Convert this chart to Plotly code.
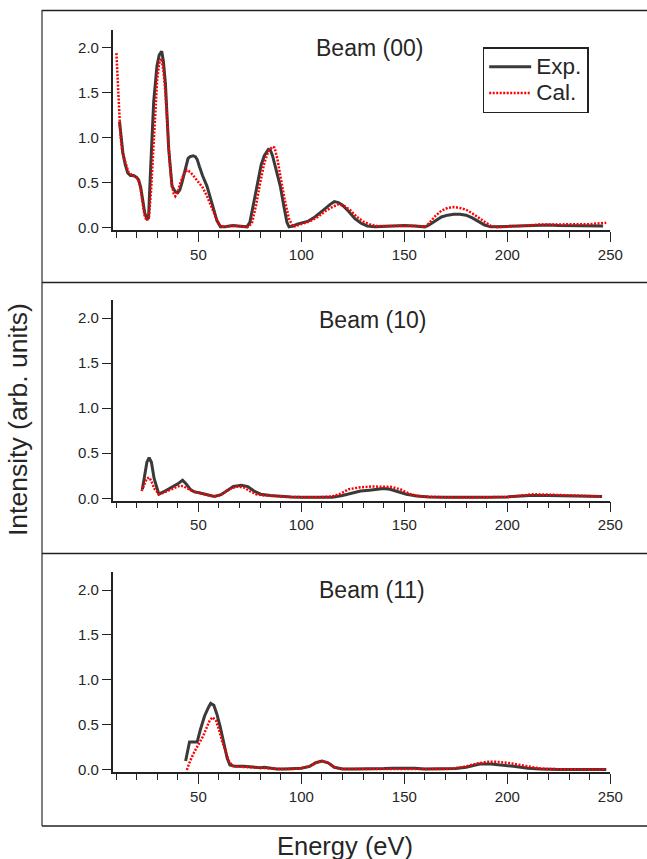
import plotly.graph_objects as go

# ---------------- data ----------------
# Beam (00)
e00_exp = [11.7, 12.5, 13.4, 14.5, 15.7, 17, 18.6, 20, 21, 22, 23, 24, 25, 25.8, 26.7, 28.3, 29.9, 31, 32.2, 33, 34, 35.6, 37.2, 38.8, 40, 41, 42, 43.5, 45, 46, 47.5, 48.5, 49.4, 50.5, 52, 54.2, 56, 57.4, 59, 60.7, 63, 65, 67, 69, 71, 73.6, 75, 77, 79, 80.5, 82, 84, 85, 86, 88, 89.8, 91.5, 93, 94, 96, 98, 100, 103, 106, 109, 112, 114, 116, 118, 120, 123, 126, 129, 132, 136, 140, 145, 150, 155, 158, 160, 162, 165, 168, 171, 174, 177, 180, 183, 186, 189, 192, 196, 200, 205, 210, 215, 220, 225, 230, 235, 240, 246.5]
i00_exp = [1.18, 1.0, 0.82, 0.7, 0.61, 0.58, 0.58, 0.56, 0.53, 0.45, 0.3, 0.16, 0.1, 0.11, 0.6, 1.4, 1.8, 1.92, 1.96, 1.85, 1.6, 0.87, 0.46, 0.4, 0.39, 0.42, 0.5, 0.65, 0.77, 0.79, 0.8, 0.79, 0.76, 0.68, 0.58, 0.46, 0.32, 0.2, 0.08, 0.01, 0.01, 0.02, 0.025, 0.02, 0.015, 0.01, 0.06, 0.3, 0.55, 0.7, 0.8, 0.87, 0.86, 0.8, 0.62, 0.46, 0.24, 0.06, 0.01, 0.02, 0.04, 0.05, 0.07, 0.11, 0.16, 0.22, 0.26, 0.29, 0.28, 0.25, 0.18, 0.1, 0.05, 0.02, 0.01, 0.015, 0.02, 0.025, 0.02, 0.015, 0.01, 0.03, 0.08, 0.12, 0.14, 0.15, 0.15, 0.14, 0.11, 0.07, 0.03, 0.01, 0.01, 0.015, 0.02, 0.025, 0.03, 0.03, 0.025, 0.025, 0.02, 0.02, 0.02]
e00_cal = [10.2, 11, 12.1, 13, 14.5, 16, 18, 20, 21, 22, 23, 24, 25, 26, 27, 28, 29, 30, 31, 32, 33, 34, 35, 36, 37, 38, 38.8, 40, 41.3, 43, 44.5, 46, 47.5, 49.4, 52, 54.2, 56, 58, 59.1, 61, 63, 66, 69, 72, 74, 76, 78, 80, 82, 84, 86, 87, 88.5, 90, 92, 94, 96, 100, 104, 108, 112, 115, 118, 121, 124, 127, 130, 133, 136, 140, 145, 150, 155, 160, 162, 165, 168, 171, 174, 177, 180, 183, 186, 189, 192, 195, 200, 205, 210, 215, 220, 225, 230, 235, 240, 245, 248]
i00_cal = [1.94, 1.5, 1.05, 0.85, 0.72, 0.62, 0.58, 0.56, 0.52, 0.42, 0.26, 0.12, 0.08, 0.12, 0.4, 0.85, 1.3, 1.65, 1.83, 1.88, 1.75, 1.5, 1.15, 0.75, 0.5, 0.38, 0.35, 0.4, 0.5, 0.6, 0.64, 0.62, 0.58, 0.53, 0.45, 0.35, 0.25, 0.13, 0.08, 0.01, 0.01, 0.02, 0.02, 0.01, 0.01, 0.05, 0.25, 0.5, 0.72, 0.85, 0.9, 0.89, 0.75, 0.55, 0.3, 0.1, 0.01, 0.04, 0.07, 0.12, 0.19, 0.23, 0.26, 0.24, 0.19, 0.12, 0.07, 0.04, 0.02, 0.02, 0.02, 0.025, 0.02, 0.01, 0.05, 0.13, 0.19, 0.22, 0.23, 0.22, 0.2, 0.16, 0.11, 0.06, 0.02, 0.005, 0.01, 0.015, 0.025, 0.035, 0.035, 0.035, 0.035, 0.04, 0.04, 0.05, 0.055]

# Beam (10)
e10_exp = [22.8, 24, 25, 26.1, 27.2, 28.5, 30.8, 33, 35.4, 38, 40, 42.3, 44, 46, 48, 50.4, 54, 57.8, 61, 64, 67, 70.9, 74, 77, 80.2, 85, 90, 95, 100, 108, 115, 120, 125, 128.7, 133, 137, 139.9, 143, 147, 151, 156, 162, 170, 179, 190, 200, 205, 210.8, 220, 230, 240, 246]
i10_exp = [0.1, 0.25, 0.4, 0.45, 0.4, 0.22, 0.045, 0.07, 0.1, 0.13, 0.16, 0.2, 0.16, 0.1, 0.07, 0.06, 0.04, 0.02, 0.04, 0.09, 0.13, 0.145, 0.13, 0.08, 0.045, 0.03, 0.02, 0.015, 0.012, 0.007, 0.01, 0.03, 0.06, 0.08, 0.09, 0.1, 0.107, 0.1, 0.07, 0.045, 0.025, 0.015, 0.01, 0.007, 0.01, 0.015, 0.02, 0.03, 0.03, 0.025, 0.02, 0.02]
e10_cal = [22.4, 24, 25, 26.1, 27.2, 28.5, 30.8, 33, 36, 39, 41, 43, 46, 50, 54, 57, 60, 63, 66, 69, 72, 75, 78, 82, 88, 95, 100, 108, 115, 119, 123, 128, 134, 139, 143.7, 148, 153, 158, 165, 172, 180, 190, 200, 205, 212.7, 220, 230, 240, 246]
i10_cal = [0.08, 0.17, 0.22, 0.23, 0.19, 0.11, 0.045, 0.06, 0.09, 0.12, 0.14, 0.13, 0.09, 0.06, 0.04, 0.02, 0.03, 0.07, 0.11, 0.13, 0.12, 0.08, 0.045, 0.03, 0.02, 0.015, 0.012, 0.01, 0.02, 0.05, 0.1, 0.12, 0.13, 0.13, 0.126, 0.1, 0.045, 0.02, 0.012, 0.01, 0.008, 0.01, 0.015, 0.025, 0.045, 0.04, 0.035, 0.025, 0.02]

# Beam (11)
e11_exp = [43.8, 45.7, 47.5, 49.4, 51, 53, 55, 56, 57.5, 59, 60.6, 62.5, 64, 65.3, 68, 72, 76, 80, 82, 85, 88, 92, 96, 100, 104, 107, 110, 113, 116, 120, 125, 130, 135, 140, 145, 150, 155, 160, 165, 170, 175, 180, 186.6, 192, 197.8, 203, 210, 216, 225, 235, 248]
i11_exp = [0.1, 0.31, 0.31, 0.31, 0.45, 0.6, 0.7, 0.74, 0.72, 0.62, 0.48, 0.3, 0.13, 0.055, 0.04, 0.04, 0.03, 0.025, 0.03, 0.02, 0.01, 0.01, 0.015, 0.02, 0.04, 0.08, 0.1, 0.08, 0.03, 0.01, 0.01, 0.01, 0.01, 0.015, 0.02, 0.02, 0.02, 0.01, 0.01, 0.01, 0.015, 0.03, 0.067, 0.065, 0.055, 0.04, 0.02, 0.01, 0.005, 0.005, 0.005]
e11_cal = [44.4, 46, 48, 50, 52.2, 54, 55.5, 56.9, 58.5, 60, 61.5, 63.4, 65, 67, 70, 75, 80, 85, 90, 95, 100, 104, 107, 110, 113, 116, 120, 130, 140, 150, 160, 170, 175, 180, 185, 190, 195, 200, 205, 210, 215, 220, 230, 240, 248]
i11_cal = [0.0, 0.1, 0.2, 0.28, 0.37, 0.47, 0.55, 0.585, 0.55, 0.45, 0.32, 0.19, 0.09, 0.04, 0.035, 0.03, 0.02, 0.015, 0.01, 0.01, 0.02, 0.04, 0.08, 0.1, 0.08, 0.03, 0.01, 0.01, 0.01, 0.015, 0.01, 0.01, 0.02, 0.04, 0.07, 0.09, 0.09, 0.08, 0.06, 0.04, 0.02, 0.01, 0.005, 0.005, 0.005]

panel_titles = ["Beam (00)", "Beam (10)", "Beam (11)"]
series_names = ["Exp.", "Cal."]
x_tickvals = [50, 100, 150, 200, 250]
y_tickvals = [0.0, 0.5, 1.0, 1.5, 2.0]

# ---------------- layout helpers ----------------
W, H = 647, 859
def px(x):
    return x / W
def py(y):
    return 1 - y / H

FONT = "Liberation Sans, Arial, Helvetica, sans-serif"
TXT = "#262626"
EXP_COLOR = "#3a3a3a"
CAL_COLOR = "#ff0000"

# panel boxes in pixels (top, bottom)
panels = [(29.7, 230.0), (300.0, 500.5), (572.0, 772.2)]
x_left, x_right = 112.7, 610.3

fig = go.Figure()

data = [
    (e00_exp, i00_exp, e00_cal, i00_cal),
    (e10_exp, i10_exp, e10_cal, i10_cal),
    (e11_exp, i11_exp, e11_cal, i11_cal),
]

for k, (ex, iy, cx, cy) in enumerate(data):
    xa = "x" if k == 0 else f"x{k+1}"
    ya = "y" if k == 0 else f"y{k+1}"
    fig.add_trace(go.Scatter(x=ex, y=iy, mode="lines",
                             name="<span style='font-size:22.5px'>%s</span>" % series_names[0],
                             line=dict(color=EXP_COLOR, width=3),
                             showlegend=(k == 0), xaxis=xa, yaxis=ya))
    fig.add_trace(go.Scatter(x=cx, y=cy, mode="lines",
                             name="<span style='font-size:22.5px'>%s</span>" % series_names[1],
                             line=dict(color=CAL_COLOR, width=2.5, dash="2px,1.5px"),
                             showlegend=(k == 0), xaxis=xa, yaxis=ya))

axis_common = dict(showline=True, linecolor="#222222", linewidth=1.5,
                   showgrid=False, zeroline=False, ticks="outside",
                   tickcolor="#222222", tickwidth=1.3, automargin=False,
                   tickfont=dict(family=FONT, size=15, color=TXT))

layout = dict(
    width=W, height=H, autosize=False,
    margin=dict(l=0, r=0, t=0, b=0, autoexpand=False),
    paper_bgcolor="white", plot_bgcolor="white",
    font=dict(family=FONT, color=TXT),
    showlegend=True,
    legend=dict(x=px(482.7), y=py(47.0), xanchor="left", yanchor="top",
                bordercolor="#222222", borderwidth=1.5, bgcolor="white",
                font=dict(family=FONT, size=18, color=TXT),
                tracegroupgap=0, itemwidth=42),
)

for k, (top, bot) in enumerate(panels):
    sx = "" if k == 0 else str(k + 1)
    layout["xaxis" + sx] = dict(
        axis_common, domain=[px(x_left), px(x_right)], range=[8.4, 250],
        anchor="y" + sx, tickvals=x_tickvals, ticklen=10,
        minor=dict(dtick=10, tick0=0, ticks="outside", ticklen=6,
                   tickcolor="#222222", tickwidth=1.3),
    )
    layout["yaxis" + sx] = dict(
        axis_common, domain=[py(bot), py(top)], range=[-0.025, 2.2],
        anchor="x" + sx, tickvals=y_tickvals, tickformat=".1f", ticklen=9,
    )

fig.update_layout(**layout)

# panel titles
title_pos = [(369, 48.5), (372, 319.5), (372.5, 590)]
for t, (tx, ty) in zip(panel_titles, title_pos):
    fig.add_annotation(text=t, xref="paper", yref="paper", x=px(tx), y=py(ty),
                       xanchor="center", yanchor="middle", showarrow=False,
                       font=dict(family=FONT, size=23, color=TXT))

# axis titles
fig.add_annotation(text="Intensity (arb. units)", xref="paper", yref="paper",
                   x=px(18), y=py(420), textangle=-90, showarrow=False,
                   xanchor="center", yanchor="middle",
                   font=dict(family=FONT, size=26.5, color=TXT))
fig.add_annotation(text="Energy (eV)", xref="paper", yref="paper",
                   x=px(345), y=py(846), showarrow=False,
                   xanchor="center", yanchor="middle",
                   font=dict(family=FONT, size=25.5, color=TXT))

# frame lines
fig.add_shape(type="line", xref="paper", yref="paper",
              x0=px(42), x1=px(42), y0=py(10), y1=py(826),
              line=dict(color="#808080", width=2))
for yy in [10.5, 282.5, 553.5, 826]:
    fig.add_shape(type="line", xref="paper", yref="paper",
                  x0=px(42), x1=1.0, y0=py(yy), y1=py(yy),
                  line=dict(color="#222222", width=1.3))

fig.write_html("out.html")
